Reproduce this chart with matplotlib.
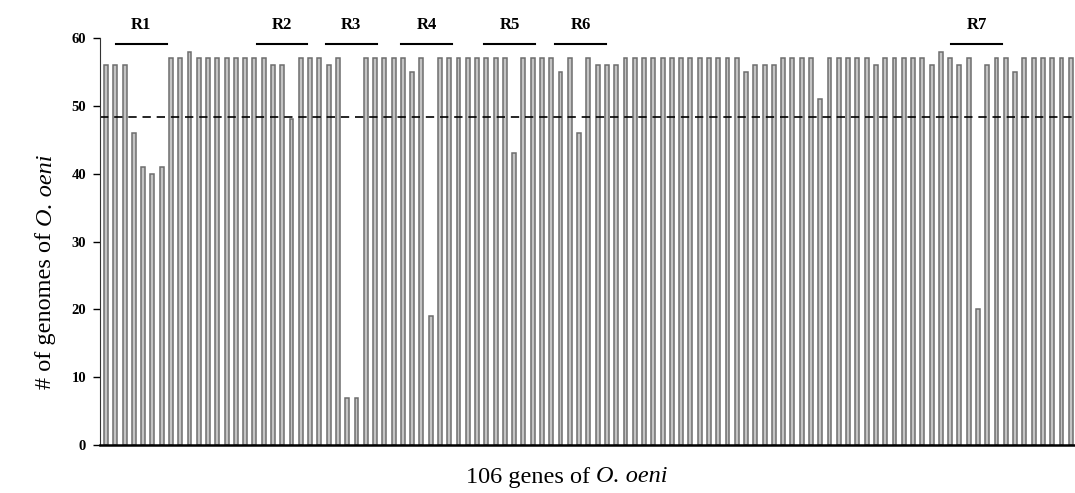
import numpy as np
import matplotlib
matplotlib.use("Agg")
import matplotlib.pyplot as plt
from matplotlib.transforms import IdentityTransform

# fonts: Times-like serif
plt.rcParams['font.family'] = ['Liberation Serif', 'DejaVu Serif']

# number of O. oeni genomes carrying each of the 106 genes
genomes = [56, 56, 56, 46, 41, 40, 41, 57, 57, 58,
           57, 57, 57, 57, 57, 57, 57, 57, 56, 56,
           48, 57, 57, 57, 56, 57, 7, 7, 57, 57,
           57, 57, 57, 55, 57, 19, 57, 57, 57, 57,
           57, 57, 57, 57, 43, 57, 57, 57, 57, 55,
           57, 46, 57, 56, 56, 56, 57, 57, 57, 57,
           57, 57, 57, 57, 57, 57, 57, 57, 57, 55,
           56, 56, 56, 57, 57, 57, 57, 51, 57, 57,
           57, 57, 57, 56, 57, 57, 57, 57, 57, 56,
           58, 57, 56, 57, 20, 56, 57, 57, 55, 57,
           57, 57, 57, 57, 57, 57]
threshold = 48.3

# regions marked above the bars (gene index spans)
region_labels = ['R1', 'R2', 'R3', 'R4', 'R5', 'R6', 'R7']
region_start = [1.05, 16.25, 23.7, 31.8, 40.8, 48.4, 91.1]
region_end = [6.55, 21.7, 29.2, 37.3, 46.3, 53.9, 96.6]

yticks = [0, 10, 20, 30, 40, 50, 60]

ylabel_parts = [('# of genomes of ', 'normal'), ('O. oeni', 'italic')]
xlabel_parts = [('106 genes of ', 'normal'), ('O. oeni', 'italic')]


def mixed_label(fig, parts, cx, cy, vertical, size):
    # lay out regular + italic pieces one after the other, centred on (cx, cy) in pixels
    r = fig.canvas.get_renderer()
    texts, lengths = [], []
    for s, style in parts:
        if vertical:
            t = fig.text(0, 0, s, fontsize=size, style=style, rotation=90,
                         ha='center', va='bottom', transform=IdentityTransform())
        else:
            t = fig.text(0, 0, s, fontsize=size, style=style,
                         ha='left', va='center', transform=IdentityTransform())
        bb = t.get_window_extent(r)
        texts.append(t)
        lengths.append(bb.height if vertical else bb.width)
    pos = (cy if vertical else cx) - sum(lengths) / 2
    for t, L in zip(texts, lengths):
        t.set_position((cx, pos) if vertical else (pos, cy))
        pos += L


fig = plt.figure(figsize=(10.75, 4.93), dpi=100)
ax = fig.add_axes([0.093, 0.097, 0.907, 0.826])

x = np.arange(len(genomes))
ax.bar(x, genomes, width=0.42, color='#c4c4c4', edgecolor='#6e6e6e', linewidth=1.1)

ax.axhline(threshold, color='black', linestyle=(0, (5, 3.5)), linewidth=1.2)

for lab, a, b in zip(region_labels, region_start, region_end):
    ax.plot([a, b], [59.1, 59.1], color='black', linewidth=1.5, clip_on=False)
    ax.text((a + b) / 2, 61.9, lab, ha='center', va='center',
            fontsize=12, fontweight='bold', clip_on=False)

ax.set_xlim(-0.65, 104.46)
ax.set_ylim(0, 60)
ax.set_yticks(yticks)
ax.set_xticks([])
ax.tick_params(axis='y', direction='out', length=5, width=1, labelsize=10.5, pad=5)
for t in ax.get_yticklabels():
    t.set_fontweight('bold')

ax.spines['top'].set_visible(False)
ax.spines['right'].set_visible(False)
ax.spines['left'].set_color('#333333')
ax.spines['bottom'].set_linewidth(1.8)

mixed_label(fig, ylabel_parts, 46, 221, True, 17.5)
mixed_label(fig, xlabel_parts, 567, 16, False, 17.5)

fig.savefig('out.png', dpi=100)
